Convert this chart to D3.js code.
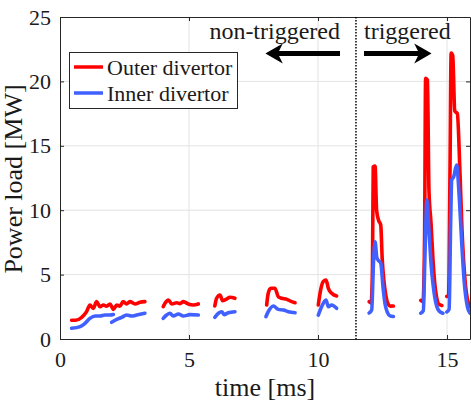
<!DOCTYPE html>
<html><head><meta charset="utf-8">
<script src="https://cdn.jsdelivr.net/npm/d3@7"></script>
<style>body{margin:0;background:#fff}svg{display:block}text{font-family:"Liberation Serif","Times New Roman",serif;fill:#1a1a1a}</style>
</head><body><svg id="c" width="471" height="404"></svg>
<script>
// ---- data ----
const xTicks = [0, 5, 10, 15];
const yTicks = [0, 5, 10, 15, 20, 25];
const seriesNames = ["Outer divertor", "Inner divertor"];
const seriesColors = ["#ff0000", "#4060ff"];
const triggerTime = 11.47;

const outerSegments = [
  [[0.45,1.45],[0.6,1.45],[0.84,1.68],[1.03,2.12],[1.16,2.64],[1.29,2.38],[1.42,2.9],[1.55,2.51],[1.68,2.64],[1.81,2.55],[1.94,2.72],[2.02,2.45],[2.07,2.3],[2.2,2.64],[2.32,2.55],[2.45,2.9],[2.58,2.72],[2.71,2.9],[2.91,2.72],[3.1,2.85],[3.29,2.9]],
  [[4.0,2.51],[4.07,2.77],[4.2,3.03],[4.33,2.72],[4.52,2.82],[4.65,2.75],[4.78,2.9],[4.97,2.72],[5.17,2.64],[5.36,2.72]],
  [[6.0,2.56],[6.07,3.16],[6.2,3.42],[6.3,2.97],[6.43,3.08],[6.59,3.24],[6.78,3.16]],
  [[8.01,2.64],[8.07,3.55],[8.17,3.94],[8.33,3.94],[8.46,3.28],[8.59,3.16],[8.79,3.08],[8.98,2.9],[9.11,2.82]],
  [[10.01,2.64],[10.1,3.8],[10.2,4.45],[10.31,4.58],[10.4,3.94],[10.53,3.55],[10.72,3.34]],
  [[11.98,2.9],[12.06,2.8],[12.11,5.5],[12.14,13.38],[12.21,13.43],[12.27,10.0],[12.35,9.2],[12.43,8.85],[12.49,6.13],[12.55,4.6],[12.62,3.5],[12.7,2.8],[12.8,2.55],[12.92,2.56]],
  [[13.98,3.0],[14.07,2.9],[14.13,8.0],[14.17,20.25],[14.24,20.1],[14.3,11.5],[14.38,9.0],[14.46,6.0],[14.53,4.2],[14.6,3.2],[14.68,2.7],[14.8,2.6]],
  [[14.99,3.3],[15.06,3.4],[15.11,12.0],[15.16,22.2],[15.22,22.0],[15.3,17.7],[15.4,17.5],[15.5,13.0],[15.58,8.5],[15.68,5.0],[15.78,3.2],[15.9,2.5]]
];
const innerSegments = [
  [[0.45,0.83],[0.78,0.96],[0.97,1.22],[1.16,1.6],[1.36,1.78],[1.55,1.78],[1.74,1.86],[1.94,1.86],[2.07,1.9]],
  [[2.0,1.3],[2.2,1.53],[2.39,1.68],[2.58,1.86],[2.78,1.78],[2.97,1.86],[3.29,2.0]],
  [[4.0,1.6],[4.13,1.86],[4.26,2.0],[4.39,1.78],[4.59,1.94],[4.78,1.78],[5.04,1.89],[5.36,1.86]],
  [[6.0,1.68],[6.14,2.0],[6.27,2.12],[6.36,1.89],[6.52,2.04],[6.78,2.12]],
  [[7.98,1.73],[8.07,2.12],[8.27,2.56],[8.46,2.3],[8.66,2.25],[8.85,2.12],[9.11,2.04]],
  [[10.01,1.86],[10.14,2.51],[10.31,3.03],[10.4,2.51],[10.53,2.64],[10.72,2.38]],
  [[11.98,2.02],[12.08,2.25],[12.15,6.0],[12.21,7.55],[12.28,6.3],[12.34,6.1],[12.43,5.9],[12.53,3.8],[12.6,2.7],[12.68,2.1],[12.79,1.8],[12.92,1.75]],
  [[13.98,2.0],[14.08,2.2],[14.15,7.0],[14.22,10.8],[14.3,8.46],[14.39,5.6],[14.46,4.2],[14.52,3.3],[14.6,2.55],[14.7,2.15],[14.84,2.0]],
  [[14.99,2.1],[15.08,2.3],[15.14,9.0],[15.18,12.35],[15.26,12.6],[15.37,13.5],[15.48,10.8],[15.57,7.45],[15.67,4.35],[15.79,2.5],[15.89,2.0]]
];
const annotLeft = "non-triggered";
const annotRight = "triggered";
const xLabel = "time [ms]";
const yLabel = "Power load [MW]";

// ---- layout ----
const L = 60, R = 470, T = 17, B = 339;
const x = d3.scaleLinear().domain([0, 15.89]).range([L, R]);
const y = d3.scaleLinear().domain([0, 25]).range([B, T]);
const svg = d3.select("#c");

svg.append("defs").append("clipPath").attr("id","clip")
  .append("rect").attr("x",L).attr("y",T).attr("width",R-L).attr("height",B-T);

// grid
const g = svg.append("g");
g.selectAll(".gx").data(xTicks.filter(d=>d>0)).join("line")
  .attr("x1",d=>x(d)).attr("x2",d=>x(d)).attr("y1",T).attr("y2",B)
  .attr("stroke","#e3e3e3").attr("stroke-width",1);
g.selectAll(".gy").data(yTicks.filter(d=>d>0 && d<25)).join("line")
  .attr("y1",d=>y(d)).attr("y2",d=>y(d)).attr("x1",L).attr("x2",R)
  .attr("stroke","#e3e3e3").attr("stroke-width",1);

// axes
const xAxis = d3.axisBottom(x).tickValues(xTicks).tickSizeInner(-4).tickSizeOuter(0).tickPadding(8);
const yAxis = d3.axisLeft(y).tickValues(yTicks).tickSizeInner(-4).tickSizeOuter(0).tickPadding(8);
const ax = svg.append("g").attr("transform",`translate(0,${B})`).call(xAxis);
const ay = svg.append("g").attr("transform",`translate(${L},0)`).call(yAxis);
const axTop = svg.append("g").attr("transform",`translate(0,${T})`).call(d3.axisTop(x).tickValues(xTicks).tickSizeInner(-4).tickSizeOuter(0).tickFormat(""));
const ayR = svg.append("g").attr("transform",`translate(${R},0)`).call(d3.axisRight(y).tickValues(yTicks).tickSizeInner(-4).tickSizeOuter(0).tickFormat(""));
[ax,ay,axTop,ayR].forEach(a=>{
  a.select(".domain").attr("stroke","#262626").attr("stroke-width",1);
  a.selectAll(".tick line").attr("stroke","#262626");
  a.selectAll("text").attr("font-family","Liberation Serif").attr("font-size",22).attr("fill","#1a1a1a");
});
ax.selectAll("text").attr("dy","0.9em");
ay.selectAll("text").attr("dx","-1");

// trigger line
svg.append("line").attr("x1",x(triggerTime)).attr("x2",x(triggerTime)).attr("y1",T).attr("y2",B)
  .attr("stroke","#000").attr("stroke-width",1.5).attr("stroke-dasharray","1.5,1.5");

// lines
const line = d3.line().x(d=>x(d[0])).y(d=>y(d[1])).curve(d3.curveMonotoneX);
const plot = svg.append("g").attr("clip-path","url(#clip)");
[outerSegments, innerSegments].forEach((segs,i)=>{
  plot.append("g").selectAll("path").data(segs).join("path")
    .attr("d",line).attr("fill","none").attr("stroke",seriesColors[i])
    .attr("stroke-width",3.6).attr("stroke-linejoin","round").attr("stroke-linecap","round");
});

// annotations
svg.append("text").attr("x",340).attr("y",39).attr("text-anchor","end").attr("font-size",24).text(annotLeft);
svg.append("text").attr("x",364).attr("y",39).attr("text-anchor","start").attr("font-size",24).text(annotRight);
function arrow(x0,x1,yy){
  const dir = Math.sign(x1-x0);
  svg.append("line").attr("x1",x0).attr("x2",x1-dir*10).attr("y1",yy).attr("y2",yy)
    .attr("stroke","#000").attr("stroke-width",5);
  svg.append("path").attr("d",`M${x1},${yy} L${x1-dir*14},${yy-8} L${x1-dir*10},${yy} L${x1-dir*14},${yy+8} Z`)
    .attr("fill","#000").attr("stroke","#000").attr("stroke-width",1.5).attr("stroke-linejoin","miter");
}
arrow(340, 267, 53.5);
arrow(364, 430, 53.5);

// legend
const lg = svg.append("g");
lg.append("rect").attr("x",69.5).attr("y",52.5).attr("width",168).attr("height",56)
  .attr("fill","#fff").attr("stroke","#262626").attr("stroke-width",1);
seriesNames.forEach((n,i)=>{
  const yy = 67 + i*26;
  lg.append("line").attr("x1",74).attr("x2",103).attr("y1",yy).attr("y2",yy)
    .attr("stroke",seriesColors[i]).attr("stroke-width",3.5);
  lg.append("text").attr("x",107).attr("y",yy+8).attr("font-size",22).text(n);
});

// axis labels
svg.append("text").attr("x",(L+R)/2).attr("y",396).attr("text-anchor","middle").attr("font-size",26).text(xLabel);
svg.append("text").attr("transform",`translate(22,${(T+B)/2+1}) rotate(-90)`).attr("text-anchor","middle").attr("font-size",26).text(yLabel);
</script></body></html>
